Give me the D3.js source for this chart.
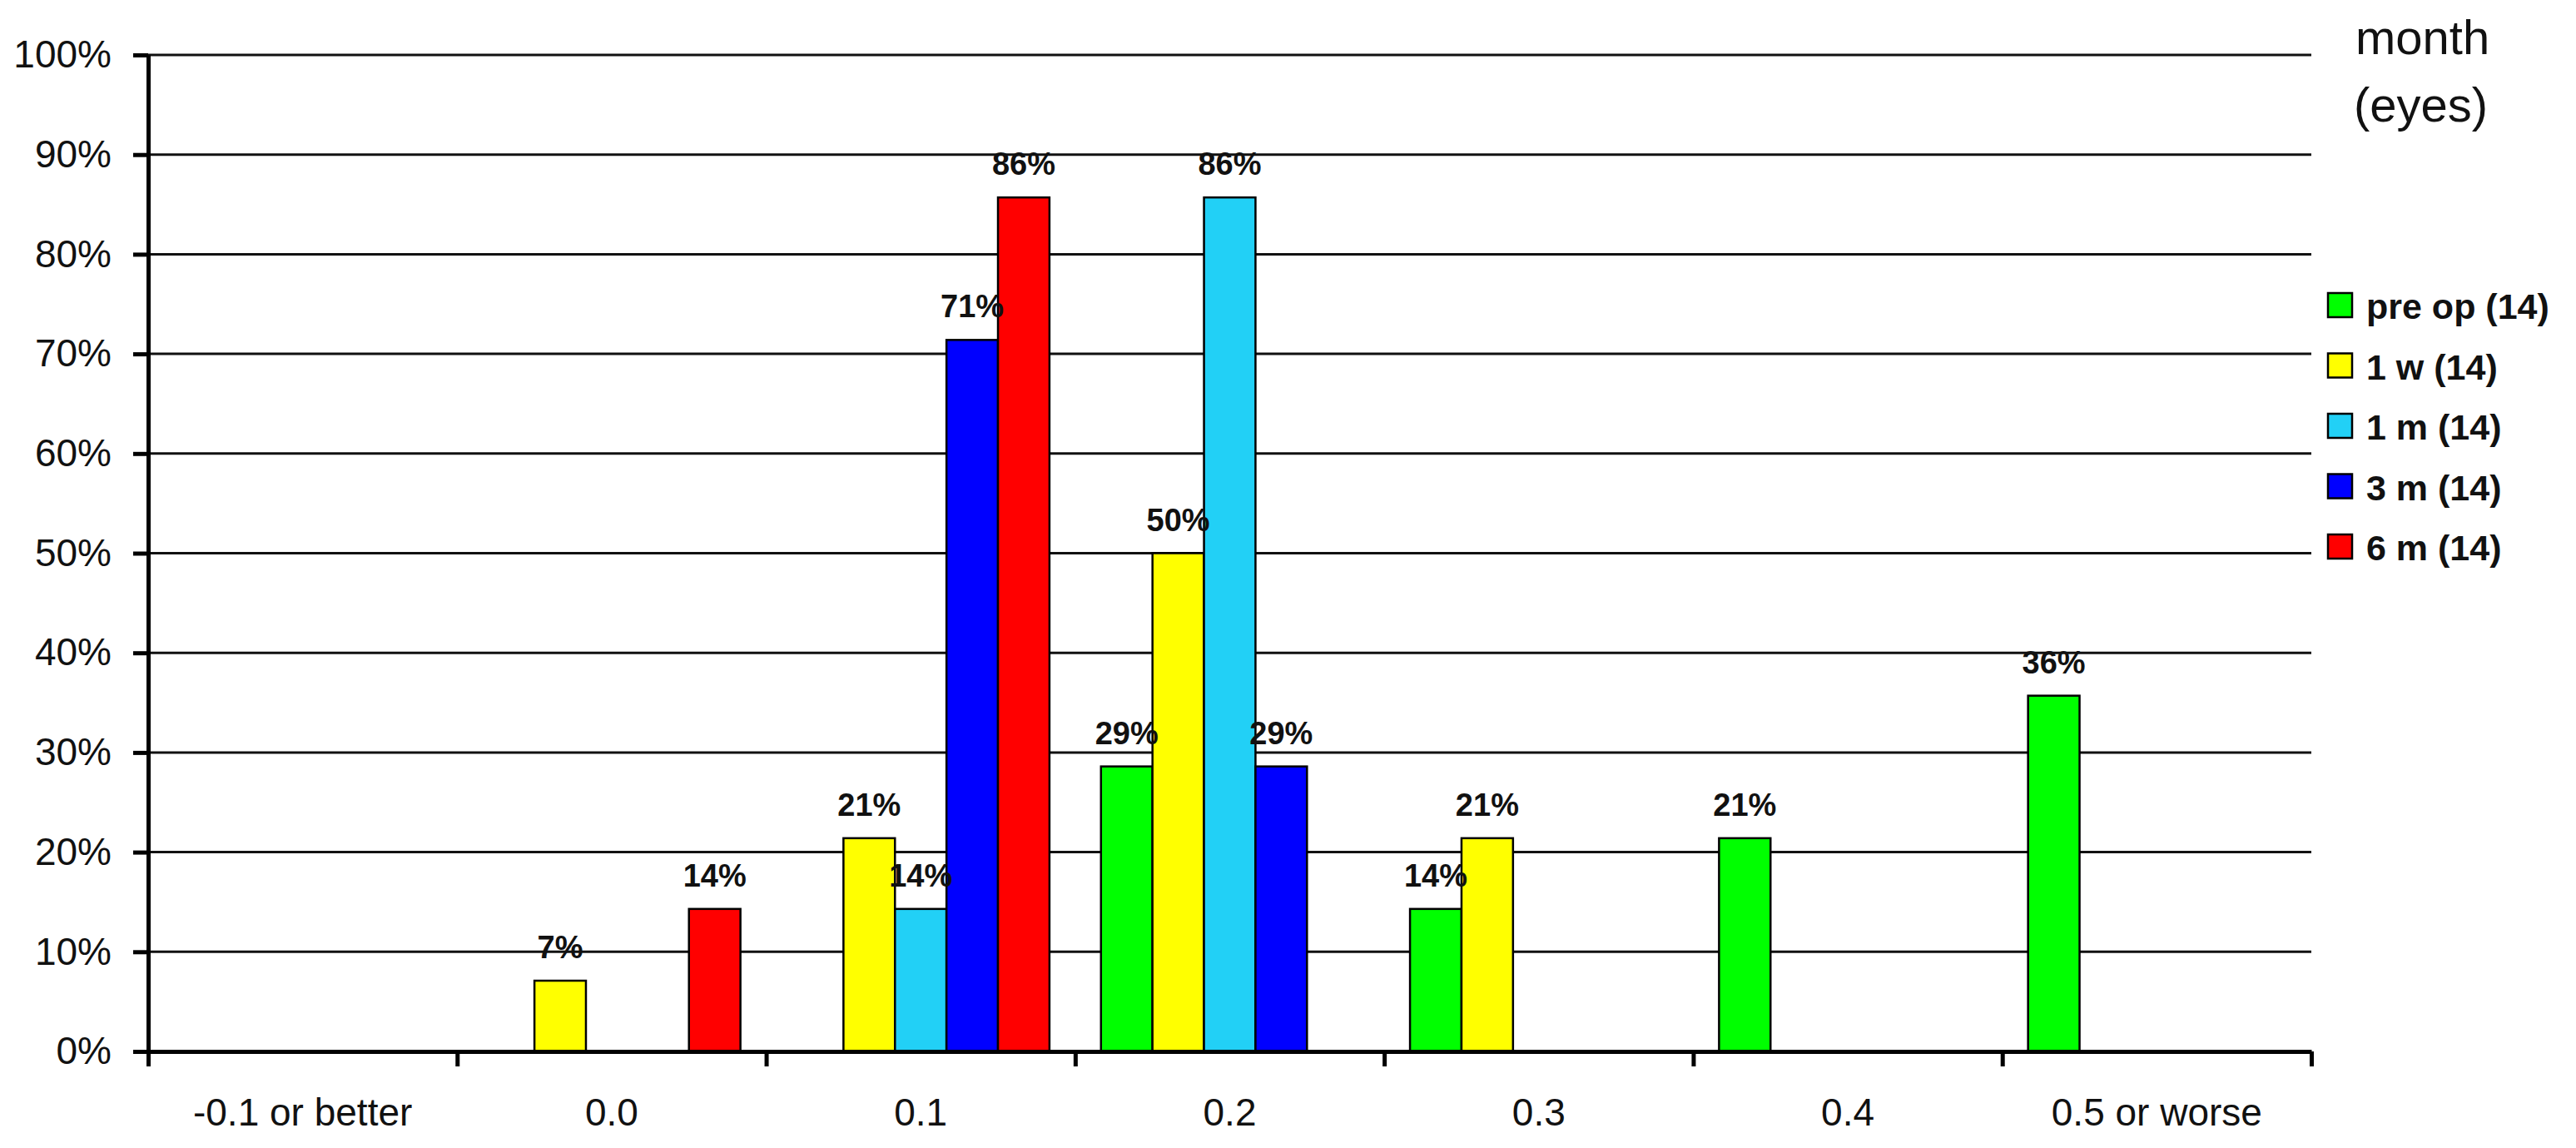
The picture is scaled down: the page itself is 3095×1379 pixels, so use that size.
<!DOCTYPE html>
<html lang="en">
<head>
    <meta charset="UTF-8"/>
    <title>Visual acuity distribution</title>
    <script src="https://d3js.org/d3.v7.min.js" charset="utf-8"></script>
    <style type="text/css">
        body { margin: 0; background: #fff; }
        text { font-family: "Liberation Sans", Arial, sans-serif; fill: #111; }
        .grid line { stroke: #111; stroke-width: 3px; }
        .axis path, .axis line { stroke: #000; stroke-width: 5px; fill: none; }
        .axis text { font-size: 46px; }
        .bar { stroke: #000; stroke-width: 2.5px; }
        .label { font-size: 38px; font-weight: bold; text-anchor: middle; }
        .legend text { font-size: 43px; font-weight: bold; }
    </style>
</head>
<body>
<div id="chart"></div>
<script type="text/javascript">
    // categories and series
    var categories = ["-0.1 or better", "0.0", "0.1", "0.2", "0.3", "0.4", "0.5 or worse"];
    var seriesNames = ["pre op (14)", "1 w (14)", "1 m (14)", "3 m (14)", "6 m (14)"];
    var seriesColors = ["#00ff00", "#ffff00", "#22d0f6", "#0000ff", "#ff0000"];

    // percent of eyes per category
    var preOp  = [0, 0, 0, 28.6, 14.3, 21.4, 35.7];
    var week1  = [0, 7.1, 21.4, 50, 21.4, 0, 0];
    var month1 = [0, 0, 14.3, 85.7, 0, 0, 0];
    var month3 = [0, 0, 71.4, 28.6, 0, 0, 0];
    var month6 = [0, 14.3, 85.7, 0, 0, 0, 0];

    var yTicks = [0, 10, 20, 30, 40, 50, 60, 70, 80, 90, 100];

    var series = [preOp, week1, month1, month3, month6];

    var W = 3095, H = 1379;
    var plotLeft = 178, plotRight = 2777, plotTop = 66, plotBottom = 1263;

    var svg = d3.select("#chart").append("svg")
        .attr("width", W)
        .attr("height", H);

    var x0 = d3.scaleBand().domain(categories).range([plotLeft, plotRight]).padding(0);
    var x1 = d3.scaleBand().domain(d3.range(series.length))
        .range([0, x0.bandwidth()]).paddingInner(0).paddingOuter(0.5);
    var y = d3.scaleLinear().domain([0, 100]).range([plotBottom, plotTop]);
    var xEdges = d3.scaleLinear().domain([0, categories.length]).range([plotLeft, plotRight]);

    // gridlines
    svg.append("g").attr("class", "grid")
        .selectAll("line")
        .data(yTicks.filter(function (d) { return d > 0; }))
        .enter().append("line")
        .attr("x1", plotLeft).attr("x2", plotRight)
        .attr("y1", function (d) { return y(d); })
        .attr("y2", function (d) { return y(d); });

    // flatten to bar rows
    var rows = [];
    series.forEach(function (vals, s) {
        vals.forEach(function (v, c) {
            if (v > 0) rows.push({s: s, c: categories[c], v: v});
        });
    });

    svg.append("g").selectAll("rect")
        .data(rows)
        .enter().append("rect")
        .attr("class", "bar")
        .attr("x", function (d) { return x0(d.c) + x1(d.s); })
        .attr("y", function (d) { return y(d.v); })
        .attr("width", x1.bandwidth())
        .attr("height", function (d) { return y(0) - y(d.v); })
        .style("fill", function (d) { return seriesColors[d.s]; });

    // Y axis
    svg.append("g").attr("class", "axis")
        .attr("transform", "translate(" + plotLeft + ",0)")
        .call(d3.axisLeft(y).tickValues(yTicks).tickSize(18).tickSizeOuter(0).tickPadding(26)
            .tickFormat(function (d) { return d + "%"; }));

    // X axis with ticks at category edges
    svg.append("g").attr("class", "axis")
        .attr("transform", "translate(0," + plotBottom + ")")
        .call(d3.axisBottom(xEdges).tickValues(d3.range(categories.length + 1))
            .tickSize(18).tickSizeOuter(0).tickFormat(""));

    svg.append("g").attr("class", "axis")
        .selectAll("text")
        .data(categories)
        .enter().append("text")
        .attr("x", function (d) { return x0(d) + x0.bandwidth() / 2; })
        .attr("y", 1352)
        .attr("text-anchor", "middle")
        .text(function (d) { return d; });

    // value labels
    svg.append("g").selectAll("text")
        .data(rows)
        .enter().append("text")
        .attr("class", "label")
        .attr("x", function (d) { return x0(d.c) + x1(d.s) + x1.bandwidth() / 2; })
        .attr("y", function (d) { return y(d.v) - 27; })
        .text(function (d) { return Math.round(d.v) + "%"; });

    // legend title
    svg.append("text").attr("x", 2830).attr("y", 65)
        .style("font-size", "58px").text("month");
    svg.append("text").attr("x", 2828).attr("y", 146)
        .style("font-size", "58px").text("(eyes)");

    var legend = svg.append("g").attr("class", "legend")
        .selectAll("g")
        .data(seriesNames)
        .enter().append("g")
        .attr("transform", function (d, i) { return "translate(2797," + (367 + i * 72.5) + ")"; });

    legend.append("rect")
        .attr("x", 0).attr("y", -15)
        .attr("width", 29).attr("height", 29)
        .style("fill", function (d, i) { return seriesColors[i]; })
        .style("stroke", "#000").style("stroke-width", "2.5px");

    legend.append("text")
        .attr("x", 46).attr("y", 16)
        .text(function (d) { return d; });
</script>
</body>
</html>
